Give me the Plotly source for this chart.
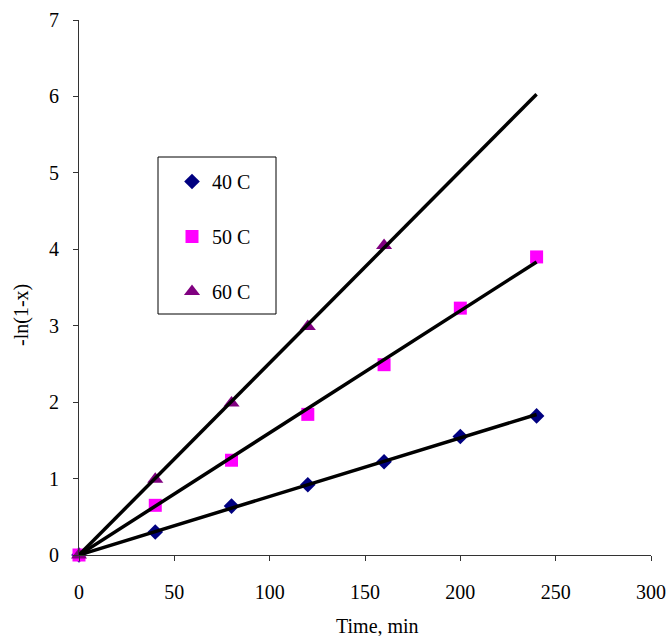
import numpy as np
import plotly.graph_objects as go

# ---- data ----
time_40 = [0, 40, 80, 120, 160, 200, 240]
val_40 = [0, 0.30, 0.64, 0.92, 1.22, 1.55, 1.82]
time_50 = [0, 40, 80, 120, 160, 200, 240]
val_50 = [0, 0.65, 1.24, 1.84, 2.49, 3.23, 3.90]
time_60 = [0, 40, 80, 120, 160]
val_60 = [0, 0.99, 1.99, 2.99, 4.05]
series_names = ["40 C", "50 C", "60 C"]
trend_x = [0, 240]
x_ticks = [0, 50, 100, 150, 200, 250, 300]
y_ticks = [0, 1, 2, 3, 4, 5, 6, 7]

FONT = "Liberation Serif"
W, H = 670, 636
ML, MR, MT, MB = 79, 19, 20, 81
PW, PH = W - ML - MR, H - MT - MB

def px_x(p):
    return (p - ML) / PW

def px_y(p):
    return (H - MB - p) / PH

fig = go.Figure()
styles = [
    dict(symbol="diamond", color="#000080", size=12),
    dict(symbol="square", color="#FF00FF", size=13),
    dict(symbol="triangle-up", color="#800080", size=14),
]
data = [(time_40, val_40), (time_50, val_50), (time_60, val_60)]

for (t, v), name, st in zip(data, series_names, styles):
    fig.add_trace(go.Scatter(
        x=t, y=v, mode="markers", name=name, legendgroup=name,
        marker=dict(symbol=st["symbol"], color=st["color"], size=st["size"], line=dict(width=0)),
        cliponaxis=False,
    ))

for (t, v) in data:
    t = np.array(t, float); v = np.array(v, float)
    k = (t * v).sum() / (t * t).sum()
    fig.add_trace(go.Scatter(
        x=trend_x, y=[k * x for x in trend_x], mode="lines",
        line=dict(color="black", width=3.5), showlegend=False, hoverinfo="skip",
        cliponaxis=False,
    ))

fig.update_layout(
    template="none",
    width=W, height=H,
    margin=dict(l=ML, r=MR, t=MT, b=MB, autoexpand=False),
    paper_bgcolor="white", plot_bgcolor="white",
    font=dict(family=FONT, size=20, color="black"),
    showlegend=True,
    legend=dict(
        x=px_x(172), y=px_y(162), xanchor="left", yanchor="top",
        borderwidth=0, bgcolor="rgba(0,0,0,0)",
        traceorder="grouped", tracegroupgap=26,
        font=dict(family=FONT, size=20, color="black"),
    ),
    shapes=[
        dict(type="rect", xref="paper", yref="paper",
             x0=px_x(158), x1=px_x(276), y0=px_y(314), y1=px_y(157),
             line=dict(color="black", width=1), fillcolor="rgba(0,0,0,0)"),
    ],
    xaxis=dict(
        range=[0, 300], tickvals=x_ticks, showgrid=False, zeroline=False, automargin=False,
        showline=True, linecolor="#333333", linewidth=1,
        ticks="outside", ticklen=5, tickcolor="#333333", ticklabelstandoff=14,
        tickfont=dict(family=FONT, size=20, color="black"),
    ),
    yaxis=dict(
        range=[0, 7], tickvals=y_ticks, showgrid=False, zeroline=False, automargin=False,
        showline=True, linecolor="#333333", linewidth=1,
        ticks="outside", ticklen=5, tickcolor="#333333", ticklabelstandoff=10,
        tickfont=dict(family=FONT, size=20, color="black"),
    ),
    annotations=[
        dict(text="Time, min", xref="paper", yref="paper", x=px_x(377), y=px_y(626),
             xanchor="center", yanchor="middle", showarrow=False,
             font=dict(family=FONT, size=20, color="black")),
        dict(text="-ln(1-x)", xref="paper", yref="paper", x=px_x(21), y=px_y(315),
             xanchor="center", yanchor="middle", showarrow=False, textangle=-90,
             font=dict(family=FONT, size=20, color="black")),
    ],
)

fig.write_html("out.html", config={"displayModeBar": False},
               post_script="document.body.style.margin='0px';document.body.style.overflow='hidden';")
